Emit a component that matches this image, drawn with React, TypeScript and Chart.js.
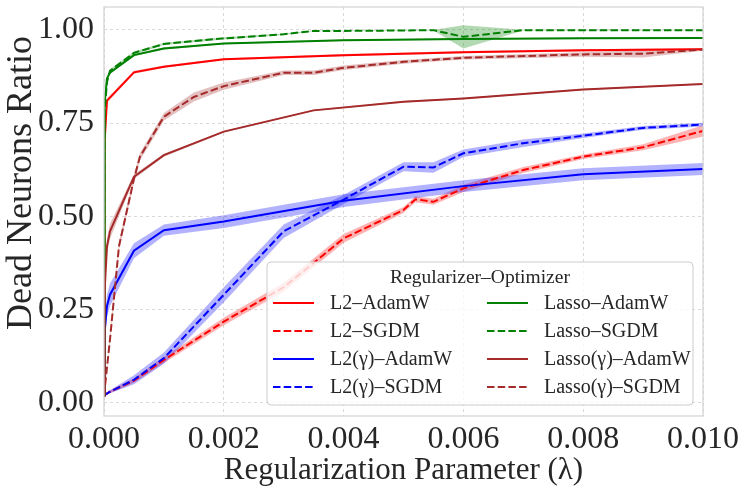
import React, { useEffect, useRef } from "react";
import { Chart, registerables } from "chart.js";

Chart.register(...registerables);

const X_TICKS = [0, 0.002, 0.004, 0.006, 0.008, 0.01];
const Y_TICKS = [0, 0.25, 0.5, 0.75, 1.0];

// L2 – AdamW
const L2_ADAMW_X = [0, 0.00001, 0.00005, 0.0005, 0.001, 0.002, 0.004, 0.006, 0.008, 0.01];
const L2_ADAMW_Y = [0.02, 0.7, 0.81, 0.886, 0.901, 0.921, 0.932, 0.94, 0.945, 0.948];
const L2_ADAMW_ERR = [0.002, 0.01, 0.006, 0.004, 0.003, 0.003, 0.003, 0.003, 0.003, 0.003];

// L2 – SGDM
const L2_SGDM_X = [0, 0.0001, 0.0005, 0.001, 0.002, 0.003, 0.004, 0.005, 0.0052, 0.0055, 0.006, 0.007, 0.008, 0.009, 0.01];
const L2_SGDM_Y = [0.02, 0.03, 0.06, 0.115, 0.218, 0.31, 0.441, 0.517, 0.546, 0.539, 0.575, 0.624, 0.66, 0.685, 0.729];
const L2_SGDM_ERR = [0.002, 0.004, 0.006, 0.008, 0.01, 0.012, 0.012, 0.008, 0.008, 0.008, 0.01, 0.008, 0.006, 0.008, 0.015];

// L2(γ) – AdamW
const L2G_ADAMW_X = [0, 0.00001, 0.00005, 0.0001, 0.0005, 0.001, 0.002, 0.004, 0.006, 0.008, 0.01];
const L2G_ADAMW_Y = [0.02, 0.19, 0.26, 0.29, 0.408, 0.463, 0.486, 0.542, 0.581, 0.613, 0.627];
const L2G_ADAMW_ERR = [0.003, 0.03, 0.03, 0.03, 0.02, 0.015, 0.017, 0.017, 0.016, 0.016, 0.016];

// L2(γ) – SGDM
const L2G_SGDM_X = [0, 0.0001, 0.0005, 0.001, 0.002, 0.003, 0.004, 0.005, 0.0055, 0.006, 0.007, 0.008, 0.009, 0.01];
const L2G_SGDM_Y = [0.02, 0.03, 0.062, 0.12, 0.29, 0.46, 0.545, 0.633, 0.631, 0.669, 0.696, 0.716, 0.737, 0.746];
const L2G_SGDM_ERR = [0.002, 0.004, 0.012, 0.015, 0.02, 0.018, 0.012, 0.012, 0.014, 0.01, 0.01, 0.006, 0.005, 0.005];

// Lasso – AdamW
const LASSO_ADAMW_X = [0, 0.00001, 0.00005, 0.0001, 0.0005, 0.001, 0.002, 0.004, 0.006, 0.008, 0.01];
const LASSO_ADAMW_Y = [0.02, 0.8, 0.87, 0.885, 0.932, 0.95, 0.963, 0.972, 0.975, 0.977, 0.978];
const LASSO_ADAMW_ERR = [0.002, 0.006, 0.004, 0.003, 0.003, 0.003, 0.002, 0.002, 0.002, 0.002, 0.002];

// Lasso – SGDM
const LASSO_SGDM_X = [0, 0.00001, 0.00005, 0.0001, 0.0005, 0.001, 0.002, 0.003, 0.0035, 0.004, 0.005, 0.0055, 0.006, 0.007, 0.008, 0.009, 0.01];
const LASSO_SGDM_Y = [0.02, 0.78, 0.86, 0.89, 0.938, 0.962, 0.977, 0.988, 0.997, 0.997, 0.998, 0.999, 0.981, 0.999, 0.999, 0.999, 0.999];
const LASSO_SGDM_ERR = [0.002, 0.006, 0.005, 0.004, 0.004, 0.003, 0.003, 0.002, 0.001, 0.001, 0.001, 0.001, 0.031, 0.001, 0.001, 0.001, 0.001];

// Lasso(γ) – AdamW
const LASSOG_ADAMW_X = [0, 0.00001, 0.00005, 0.0001, 0.0005, 0.001, 0.002, 0.0035, 0.005, 0.006, 0.008, 0.01];
const LASSOG_ADAMW_Y = [0.02, 0.3, 0.42, 0.46, 0.606, 0.664, 0.727, 0.784, 0.807, 0.816, 0.84, 0.855];
const LASSOG_ADAMW_ERR = [0.002, 0.02, 0.02, 0.02, 0.006, 0.004, 0.002, 0.002, 0.002, 0.002, 0.002, 0.002];

// Lasso(γ) – SGDM
const LASSOG_SGDM_X = [0, 0.0001, 0.00025, 0.0005, 0.0006, 0.001, 0.0015, 0.002, 0.003, 0.0035, 0.004, 0.005, 0.006, 0.008, 0.009, 0.01];
const LASSOG_SGDM_Y = [0.02, 0.17, 0.42, 0.6, 0.66, 0.767, 0.82, 0.849, 0.885, 0.885, 0.898, 0.914, 0.925, 0.934, 0.936, 0.947];
const LASSOG_SGDM_ERR = [0.002, 0.01, 0.012, 0.01, 0.01, 0.01, 0.012, 0.01, 0.006, 0.006, 0.006, 0.005, 0.005, 0.006, 0.01, 0.003];

const SERIES = [
  { label: "L2–AdamW", rgb: "255,0,0", dash: false, x: L2_ADAMW_X, y: L2_ADAMW_Y, err: L2_ADAMW_ERR },
  { label: "L2–SGDM", rgb: "255,0,0", dash: true, x: L2_SGDM_X, y: L2_SGDM_Y, err: L2_SGDM_ERR },
  { label: "L2(γ)–AdamW", rgb: "0,0,255", dash: false, x: L2G_ADAMW_X, y: L2G_ADAMW_Y, err: L2G_ADAMW_ERR },
  { label: "L2(γ)–SGDM", rgb: "0,0,255", dash: true, x: L2G_SGDM_X, y: L2G_SGDM_Y, err: L2G_SGDM_ERR },
  { label: "Lasso–AdamW", rgb: "0,128,0", dash: false, x: LASSO_ADAMW_X, y: LASSO_ADAMW_Y, err: LASSO_ADAMW_ERR },
  { label: "Lasso–SGDM", rgb: "0,128,0", dash: true, x: LASSO_SGDM_X, y: LASSO_SGDM_Y, err: LASSO_SGDM_ERR },
  { label: "Lasso(γ)–AdamW", rgb: "165,42,42", dash: false, x: LASSOG_ADAMW_X, y: LASSOG_ADAMW_Y, err: LASSOG_ADAMW_ERR },
  { label: "Lasso(γ)–SGDM", rgb: "165,42,42", dash: true, x: LASSOG_SGDM_X, y: LASSOG_SGDM_Y, err: LASSOG_SGDM_ERR },
];

const LEGEND_TITLE = "Regularizer–Optimizer";
const X_TITLE = "Regularization Parameter (λ)";
const Y_TITLE = "Dead Neurons Ratio";

const FONT = '"Liberation Serif", "DejaVu Serif", serif';
const TEXT = "#262626";
const DASH = [7.5, 3.2];

const framePlugin = {
  id: "frameAndLegend",
  afterDraw(chart: any) {
    const { ctx, chartArea: a } = chart;
    ctx.save();
    ctx.strokeStyle = "#d4d4d4";
    ctx.lineWidth = 1.25;
    ctx.setLineDash([]);
    ctx.strokeRect(a.left, a.top, a.right - a.left, a.bottom - a.top);

    // y axis title
    ctx.save();
    ctx.translate(22, 183);
    ctx.rotate(-Math.PI / 2);
    ctx.fillStyle = TEXT;
    ctx.font = `36px ${FONT}`;
    ctx.textAlign = "center";
    ctx.textBaseline = "middle";
    ctx.fillText(Y_TITLE, 0, 0);
    ctx.restore();

    // legend box
    const bw = 426, bh = 143;
    const bx = a.right - 10 - bw;
    const by = a.bottom - 11 - bh;
    const r = 4;
    ctx.beginPath();
    ctx.moveTo(bx + r, by);
    ctx.lineTo(bx + bw - r, by);
    ctx.arcTo(bx + bw, by, bx + bw, by + r, r);
    ctx.lineTo(bx + bw, by + bh - r);
    ctx.arcTo(bx + bw, by + bh, bx + bw - r, by + bh, r);
    ctx.lineTo(bx + r, by + bh);
    ctx.arcTo(bx, by + bh, bx, by + bh - r, r);
    ctx.lineTo(bx, by + r);
    ctx.arcTo(bx, by, bx + r, by, r);
    ctx.closePath();
    ctx.fillStyle = "rgba(255,255,255,0.8)";
    ctx.fill();
    ctx.strokeStyle = "#cccccc";
    ctx.lineWidth = 1;
    ctx.stroke();

    ctx.fillStyle = TEXT;
    ctx.font = `19.5px ${FONT}`;
    ctx.textAlign = "center";
    ctx.textBaseline = "middle";
    ctx.fillText(LEGEND_TITLE, bx + bw / 2, by + 16);

    ctx.textAlign = "left";
    ctx.font = `20px ${FONT}`;
    SERIES.forEach((s, i) => {
      const col = Math.floor(i / 4);
      const row = i % 4;
      const lx = bx + 6 + col * 214;
      const ly = by + 41 + row * 28;
      ctx.strokeStyle = `rgb(${s.rgb})`;
      ctx.lineWidth = 2;
      ctx.setLineDash(s.dash ? DASH : []);
      ctx.beginPath();
      ctx.moveTo(lx, ly);
      ctx.lineTo(lx + 41, ly);
      ctx.stroke();
      ctx.setLineDash([]);
      ctx.fillStyle = TEXT;
      ctx.fillText(s.label, lx + 57, ly + 1);
    });
    ctx.restore();
  },
};

export default function App() {
  const ref = useRef<HTMLCanvasElement | null>(null);

  useEffect(() => {
    if (!ref.current) return;
    const datasets: any[] = [];
    SERIES.forEach((s, i) => {
      datasets.push({
        label: s.label + " lo",
        data: s.x.map((x, j) => ({ x, y: s.y[j] - s.err[j] })),
        borderColor: "rgba(0,0,0,0)",
        borderWidth: 0,
        pointRadius: 0,
        fill: false,
        order: 100 - i,
      });
      datasets.push({
        label: s.label + " hi",
        data: s.x.map((x, j) => ({ x, y: s.y[j] + s.err[j] })),
        borderColor: "rgba(0,0,0,0)",
        borderWidth: 0,
        pointRadius: 0,
        fill: "-1",
        backgroundColor: `rgba(${s.rgb},0.3)`,
        order: 100 - i,
      });
    });
    SERIES.forEach((s, i) => {
      datasets.push({
        label: s.label,
        data: s.x.map((x, j) => ({ x, y: s.y[j] })),
        borderColor: `rgb(${s.rgb})`,
        borderWidth: 2,
        borderDash: s.dash ? DASH : [],
        pointRadius: 0,
        fill: false,
        tension: 0,
        order: 50 - i,
      });
    });

    const chart = new Chart(ref.current, {
      type: "line",
      data: { datasets },
      options: {
        animation: false,
        responsive: true,
        maintainAspectRatio: false,
        layout: { padding: { top: 7, right: 44, left: 0, bottom: 0 } },
        plugins: { legend: { display: false }, tooltip: { enabled: false } },
        scales: {
          x: {
            type: "linear",
            min: 0,
            max: 0.01,
            afterBuildTicks: (s: any) => {
              s.ticks = X_TICKS.map((value) => ({ value }));
            },
            afterFit: (s: any) => {
              s.height = 81;
              s.paddingLeft = 0;
              s.paddingRight = 0;
            },
            ticks: {
              callback: (v: any) => Number(v).toFixed(3),
              font: { family: FONT, size: 32 },
              color: TEXT,
              padding: 4,
              maxRotation: 0,
              autoSkip: false,
            },
            grid: { color: "#d0d0d0", lineWidth: 0.8, drawTicks: false },
            border: { display: false, dash: [3, 3] },
            title: {
              display: true,
              text: X_TITLE,
              font: { family: FONT, size: 31 },
              color: TEXT,
              padding: { top: 0, bottom: 8 },
            },
          },
          y: {
            type: "linear",
            min: -0.035,
            max: 1.061,
            afterBuildTicks: (s: any) => {
              s.ticks = Y_TICKS.map((value) => ({ value }));
            },
            afterFit: (s: any) => {
              s.width = 104;
              s.paddingTop = 0;
              s.paddingBottom = 0;
            },
            ticks: {
              callback: (v: any) => Number(v).toFixed(2),
              font: { family: FONT, size: 32 },
              color: TEXT,
              padding: 10,
              autoSkip: false,
            },
            grid: { color: "#d0d0d0", lineWidth: 0.8, drawTicks: false },
            border: { display: false, dash: [3, 3] },
            title: { display: false },
          },
        },
      },
      plugins: [framePlugin],
    });
    return () => chart.destroy();
  }, []);

  return (
    <div style={{ position: "fixed", left: 0, top: 0, width: 747, height: 497, background: "#fff" }}>
      <canvas ref={ref} />
    </div>
  );
}
